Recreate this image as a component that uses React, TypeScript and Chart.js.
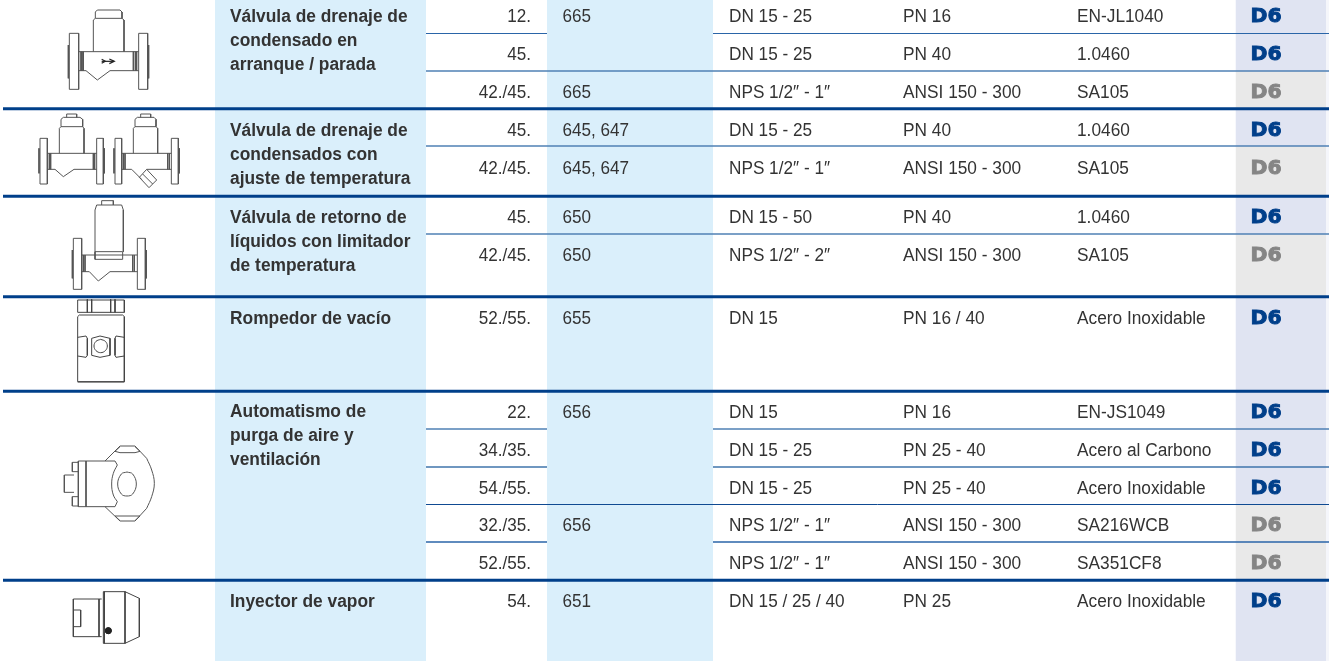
import React, { useEffect, useRef } from "react";
import { Chart, registerables } from "chart.js";

Chart.register(...registerables);

// ---------- content ----------
const groupTitles: string[][] = [
  ["Válvula de drenaje de", "condensado en", "arranque / parada"],
  ["Válvula de drenaje de", "condensados con", "ajuste de temperatura"],
  ["Válvula de retorno de", "líquidos con limitador", "de temperatura"],
  ["Rompedor de vacío"],
  ["Automatismo de", "purga de aire y", "ventilación"],
  ["Inyector de vapor"],
];
const series = ["12.", "45.", "42./45.", "45.", "42./45.", "45.", "42./45.", "52./55.", "22.", "34./35.", "54./55.", "32./35.", "52./55.", "54."];
const models = ["665", "", "665", "645, 647", "645, 647", "650", "650", "655", "656", "", "", "656", "", "651"];
const sizes = ["DN 15 - 25", "DN 15 - 25", "NPS 1/2\u2033 - 1\u2033", "DN 15 - 25", "NPS 1/2\u2033 - 1\u2033", "DN 15 - 50", "NPS 1/2\u2033 - 2\u2033", "DN 15", "DN 15", "DN 15 - 25", "DN 15 - 25", "NPS 1/2\u2033 - 1\u2033", "NPS 1/2\u2033 - 1\u2033", "DN 15 / 25 / 40"];
const ratings = ["PN 16", "PN 40", "ANSI 150 - 300", "PN 40", "ANSI 150 - 300", "PN 40", "ANSI 150 - 300", "PN 16 / 40", "PN 16", "PN 25 - 40", "PN 25 - 40", "ANSI 150 - 300", "ANSI 150 - 300", "PN 25"];
const materials = ["EN-JL1040", "1.0460", "SA105", "1.0460", "SA105", "1.0460", "SA105", "Acero Inoxidable", "EN-JS1049", "Acero al Carbono", "Acero Inoxidable", "SA216WCB", "SA351CF8", "Acero Inoxidable"];
const tagLabel = "D6";
const tagIsBlue = [true, true, false, true, false, true, false, true, true, true, true, false, false, true];

// ---------- layout, in page pixels on the chart's axes ----------
const rowEdges = [0, 33, 71, 108, 146, 196, 234, 297, 391, 429, 467, 505, 543, 581, 661];
const rowBaseline = [22, 60, 98, 136, 174, 223, 261, 324, 418, 456, 494, 531, 569, 607];
const groupBaseline = [22, 136, 223, 324, 417, 607];
const thickRules = [108.8, 196.3, 296.8, 391.2, 580.2];
const thinRuleRows = [33.5, 71, 146, 234, 429, 467, 504.5, 542];
const thinRuleColors = ["#2a65a8", "#4f80b5", "#4f80b5", "#4f80b5", "#4f80b5", "#3f74ab", "#0f4a92", "#2a65a8"];
const rulesCrossingModels = [71, 146, 234, 504.5];
const bandColumns: [number, number][] = [[215, 426], [547, 713]];

const BAND = "#daeffb";
const TAG_BLUE = "#e0e4f2";
const TAG_GREY = "#e9e9e9";
const TAG_EDGE = "#f5f6fb";
const THICK = "#003f8a";
const INK = "#333333";
const TAG_INK = "#003f8a";
const TAG_INK_GREY = "#858585";

// Icons: polylines, in thirds of a pixel (x, y pairs), with a vertical offset for each drawing.
type Poly = number[];
const icon1: Poly[] = [
  [208, 100, 236, 100, 236, 268, 208, 268, 208, 100], [205, 135, 205, 235],
  [416, 100, 443, 100, 443, 268, 416, 268, 416, 100], [446, 135, 446, 235],
  [236, 155, 416, 155], [236, 212, 258, 212, 292, 240, 330, 212, 416, 212],
  [243, 155, 243, 212], [246, 155, 246, 212], [250, 155, 250, 212], [400, 155, 400, 212], [406, 155, 406, 212], [410, 155, 410, 212],
  [280, 155, 280, 60, 286, 55, 366, 55, 372, 60, 372, 155], [286, 55, 286, 36, 292, 30, 360, 30, 366, 36, 366, 55],
];
const icon1Arrow: Poly[] = [[305, 184, 342, 184], [328, 177, 343, 184, 328, 191], [305, 178, 316, 184, 305, 190]];
const icon2: Poly[] = [
  [120, 415, 142, 415, 142, 552, 120, 552, 120, 415], [117, 445, 117, 520],
  [290, 415, 310, 415, 310, 552, 290, 552, 290, 415], [313, 445, 313, 520],
  [142, 460, 290, 460], [142, 508, 165, 508, 190, 530, 222, 508, 290, 508],
  [148, 460, 148, 508], [152, 460, 152, 508], [280, 460, 280, 508], [284, 460, 284, 508],
  [178, 460, 178, 385, 183, 380, 248, 380, 252, 385, 252, 460], [183, 380, 183, 358, 190, 352, 240, 352, 248, 358, 248, 380], [200, 352, 200, 342, 230, 342, 230, 352],
  [345, 415, 365, 415, 365, 552, 345, 552, 345, 415], [342, 445, 342, 520],
  [514, 415, 535, 415, 535, 552, 514, 552, 514, 415], [538, 445, 538, 520],
  [365, 460, 514, 460], [365, 508, 395, 508, 425, 538], [440, 508, 514, 508],
  [370, 460, 370, 508], [375, 460, 375, 508], [503, 460, 503, 508], [508, 460, 508, 508],
  [400, 460, 400, 385, 405, 380, 468, 380, 473, 385, 473, 460], [405, 380, 405, 358, 412, 352, 462, 352, 468, 358, 468, 380], [422, 352, 422, 342, 452, 342, 452, 352],
  [418, 532, 440, 508, 470, 540, 447, 563, 418, 532], [428, 522, 458, 552],
];
const icon3: Poly[] = [
  [220, 85, 245, 85, 245, 238, 220, 238, 220, 85], [217, 120, 217, 205],
  [412, 85, 436, 85, 436, 238, 412, 238, 412, 85], [439, 120, 439, 205],
  [245, 135, 412, 135], [245, 185, 268, 185, 295, 213, 330, 185, 412, 185],
  [250, 135, 250, 185], [255, 135, 255, 185], [398, 135, 398, 185], [403, 135, 403, 185],
  [285, 125, 285, 148, 368, 148, 368, 125], [285, 125, 368, 125],
  [285, 125, 285, 0, 290, -15, 365, -15, 370, 0, 370, 125], [305, -15, 305, -28, 340, -28, 340, -15],
];
const icon4: Poly[] = [
  [233, 270, 373, 270, 373, 307, 233, 307, 233, 270], [262, 268, 262, 307], [275, 268, 275, 307], [332, 268, 332, 307], [345, 268, 345, 307],
  [233, 320, 238, 315, 368, 315, 373, 320, 373, 515, 233, 515, 233, 320], [233, 516, 373, 516],
  [233, 382, 258, 378, 262, 385, 262, 436, 258, 442, 233, 438],
  [373, 382, 348, 378, 345, 385, 345, 436, 348, 442, 373, 438],
  [275, 385, 300, 378, 330, 385, 330, 436, 300, 442, 275, 436, 275, 385],
];
const icon4Round: Poly[] = [
  [302, 388, 316, 394, 322, 408, 316, 422, 302, 428, 288, 422, 282, 408, 288, 394, 302, 388],
];
const icon5: Poly[] = [
  [222, 135, 193, 135, 193, 187, 222, 187], [235, 97, 217, 97, 217, 125, 235, 125], [235, 200, 217, 200, 217, 228, 235, 228],
  [235, 93, 235, 230], [258, 93, 258, 230], [235, 93, 345, 93, 352, 105], [352, 215, 345, 230, 235, 230],
  [315, 93, 360, 48, 405, 48, 440, 85], [440, 235, 405, 273, 360, 273, 315, 230],
  [360, 68, 405, 68], [360, 50, 345, 64, 360, 68], [405, 50, 420, 64, 405, 68], [360, 258, 405, 258], [360, 272, 345, 258, 360, 258], [405, 272, 420, 258, 405, 258],
];
const icon5Round: Poly[] = [
  [352, 105, 340, 130, 335, 162, 340, 195, 352, 215],
  [440, 85, 455, 120, 463, 160, 455, 200, 440, 235],
  [381, 126, 398, 132, 409, 162, 398, 192, 381, 198, 364, 192, 353, 162, 364, 132, 381, 126],
];
const icon6: Poly[] = [
  [305, 507, 220, 507, 220, 620, 305, 620], [220, 540, 242, 540, 242, 590, 220, 590], [297, 507, 297, 620],
  [310, 485, 375, 485, 375, 640, 310, 640, 310, 485], [313, 485, 313, 640],
  [375, 485, 418, 505, 418, 620, 375, 640],
];
const icon6Dot: Poly[] = [[325, 602, 325, 602]];

const iconSets: { polys: Poly[]; offset: number; width: number; color: string; dot?: number; tension?: number }[] = [
  { polys: icon1, offset: 0, width: 1, color: "#555555" },
  { polys: icon1Arrow, offset: 0, width: 1.2, color: "#222222" },
  { polys: icon2, offset: 0, width: 1, color: "#555555" },
  { polys: icon3, offset: 210, width: 1, color: "#555555" },
  { polys: icon4, offset: 210, width: 1, color: "#444444" },
  { polys: icon4Round, offset: 210, width: 1, color: "#444444", tension: 0.4 },
  { polys: icon5, offset: 430, width: 1, color: "#555555" },
  { polys: icon5Round, offset: 430, width: 1, color: "#555555", tension: 0.4 },
  { polys: icon6, offset: 430, width: 1, color: "#444444" },
  { polys: icon6Dot, offset: 430, width: 1, color: "#222222", dot: 3 },
];

const seg = (y: number, x0: number, x1: number, color: string, width: number, order: number) => ({
  data: [{ x: x0, y }, { x: x1, y }],
  borderColor: color,
  borderWidth: width,
  pointRadius: 0,
  fill: false,
  order,
});

const band = (x0: number, x1: number, y0: number, y1: number, color: string) => ({
  data: [{ x: x0, y: y0 }, { x: x1, y: y0 }],
  borderWidth: 0,
  borderColor: "transparent",
  backgroundColor: color,
  pointRadius: 0,
  fill: { target: { value: y1 } },
  order: 5,
});

function buildDatasets() {
  const out: any[] = [];
  bandColumns.forEach(([a, b]) => out.push(band(a, b, 0, 661, BAND)));
  tagIsBlue.forEach((blue, i) => out.push(band(1235.5, 1326, rowEdges[i], rowEdges[i + 1], blue ? TAG_BLUE : TAG_GREY)));
  out.push(band(1326, 1329, 0, 661, TAG_EDGE));
  const [mx0, mx1] = bandColumns[1];
  thinRuleRows.forEach((y, i) => {
    const color = thinRuleColors[i];
    const w = Number.isInteger(y) ? 1.5 : 1;
    if (rulesCrossingModels.includes(y)) {
      out.push(seg(y, 426, 1329, color, w, 3));
    } else {
      out.push(seg(y, 426, mx0, color, w, 3));
      out.push(seg(y, mx1, 1329, color, w, 3));
    }
  });
  thickRules.forEach((y) => out.push(seg(y, 3, 1329, THICK, 3, 2)));
  iconSets.forEach((set) => {
    set.polys.forEach((p) => {
      const data: { x: number; y: number }[] = [];
      for (let i = 0; i < p.length; i += 2) data.push({ x: p[i] / 3, y: p[i + 1] / 3 + set.offset });
      out.push({
        data,
        borderColor: set.color,
        backgroundColor: set.color,
        borderWidth: set.width,
        pointRadius: set.dot ?? 0,
        tension: set.tension ?? 0,
        fill: false,
        order: 1,
      });
    });
  });
  return out;
}

const FONT = '"Liberation Sans"';
const textPlugin = {
  id: "tableText",
  afterDatasetsDraw(chart: any) {
    const { ctx, scales } = chart;
    const X = (v: number) => scales.x.getPixelForValue(v);
    const Y = (v: number) => scales.y.getPixelForValue(v);
    const put = (t: string, x: number, y: number, font: string, color: string, align: CanvasTextAlign, sx: number, stroke = 0) => {
      if (!t) return;
      ctx.save();
      ctx.translate(X(x), Y(y));
      ctx.scale(sx, 1);
      ctx.font = font;
      ctx.fillStyle = color;
      ctx.textAlign = align;
      ctx.textBaseline = "alphabetic";
      ctx.fillText(t, 0, 0);
      if (stroke) {
        ctx.strokeStyle = color;
        ctx.lineWidth = stroke;
        ctx.strokeText(t, 0, 0);
      }
      ctx.restore();
    };
    const reg = `18px ${FONT}`;
    const bold = `bold 18px ${FONT}`;
    groupTitles.forEach((lines, g) =>
      lines.forEach((l, i) => put(l, 230, groupBaseline[g] + i * 24, bold, INK, "left", 0.965))
    );
    rowBaseline.forEach((y, i) => {
      put(series[i], 531, y, reg, INK, "right", 0.95);
      put(models[i], 562.5, y, reg, INK, "left", 0.95);
      put(sizes[i], 729, y, reg, INK, "left", 0.955);
      put(ratings[i], 903, y, reg, INK, "left", 0.96);
      put(materials[i], 1077, y, reg, INK, "left", 0.96);
      put(tagLabel, 1250.5, y, 'bold 20px "DejaVu Sans"', tagIsBlue[i] ? TAG_INK : TAG_INK_GREY, "left", 1.02, 0.9);
    });
  },
};

export default function App() {
  const ref = useRef<HTMLCanvasElement>(null);
  useEffect(() => {
    const chart = new Chart(ref.current!, {
      type: "line",
      data: { datasets: buildDatasets() },
      options: {
        animation: false,
        responsive: false,
        layout: { padding: 0, autoPadding: false },
        plugins: { legend: { display: false }, title: { display: false }, tooltip: { enabled: false } },
        scales: {
          x: { type: "linear", min: 0, max: 1329, display: false },
          y: { type: "linear", min: 0, max: 661, reverse: true, display: false },
        },
      },
      plugins: [textPlugin],
    } as any);
    return () => chart.destroy();
  }, []);
  return <canvas ref={ref} width={1329} height={661} style={{ position: "absolute", left: 0, top: 0, display: "block" }} />;
}
